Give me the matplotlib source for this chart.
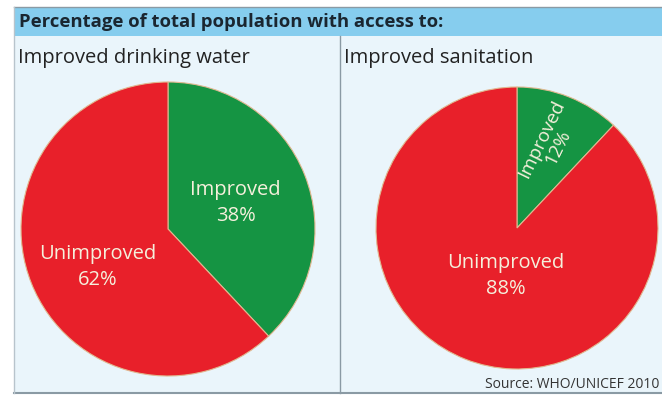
import matplotlib.pyplot as plt
from matplotlib.patches import Rectangle

W, H = 662, 396

titles = ["Improved drinking water", "Improved sanitation"]
labels = ["Improved", "Unimproved"]
water = [38, 62]
sanitation = [12, 88]

red = "#e8202a"
green = "#159443"
txt = "#f5f0dc"

fig = plt.figure(figsize=(W / 100, H / 100), dpi=100)
bg = fig.add_axes([0, 0, 1, 1])
bg.set_xlim(0, W)
bg.set_ylim(H, 0)
bg.axis("off")

# panel background, header band, borders
bg.add_patch(Rectangle((14, 7), W - 14, 386, facecolor="#eaf5fb", edgecolor="none"))
bg.add_patch(Rectangle((14, 7), W - 14, 29, facecolor="#86cdee", edgecolor="none"))
bg.plot([14, W], [7, 7], color="#8a9aa4", lw=1)
bg.plot([14, W], [393, 393], color="#8a9aa4", lw=1.5)
bg.plot([14, 14], [7, 393], color="#b8c4cc", lw=1)
bg.plot([340, 340], [36, 393], color="#8a9aa4", lw=1)

font = "Open Sans"
bg.text(19, 22, "Percentage of total population with access to:", fontsize=13.3,
        fontweight="bold", family=font, color="#1a2630", va="center")
bg.text(18, 58, titles[0], fontsize=14.5, family=font, color="#222222", va="center")
bg.text(344, 58, titles[1], fontsize=14.5, family=font, color="#222222", va="center")
bg.text(W - 3, 384, "Source: WHO/UNICEF 2010", fontsize=10, family=font,
        color="#333333", va="center", ha="right")


def pie_axes(cx, cy, r, values):
    ax = fig.add_axes([(cx - r) / W, (H - cy - r) / H, 2 * r / W, 2 * r / H])
    ax.pie(values, colors=[green, red], startangle=90, counterclock=False, radius=1,
           wedgeprops=dict(edgecolor="#e0b890", linewidth=0.8))
    ax.set_xlim(-1, 1)
    ax.set_ylim(-1, 1)
    ax.axis("off")
    return ax


ax1 = pie_axes(168, 229, 147, water)
ax1.text(0.46, 0.18, f"{labels[0]}\n{water[0]}%", ha="center", va="center",
         fontsize=14.5, family=font, color=txt, linespacing=1.4)
ax1.text(-0.48, -0.26, f"{labels[1]}\n{water[1]}%", ha="center", va="center",
         fontsize=14.5, family=font, color=txt, linespacing=1.4)

ax2 = pie_axes(517, 228, 141, sanitation)
ax2.text(0.23, 0.6, f"{labels[0]}\n{sanitation[0]}%", ha="center", va="center",
         fontsize=13.5, family=font, color=txt, rotation=64, linespacing=1.0)
ax2.text(-0.08, -0.34, f"{labels[1]}\n{sanitation[1]}%", ha="center", va="center",
         fontsize=14.5, family=font, color=txt, linespacing=1.4)

fig.savefig("out.png", dpi=100)
